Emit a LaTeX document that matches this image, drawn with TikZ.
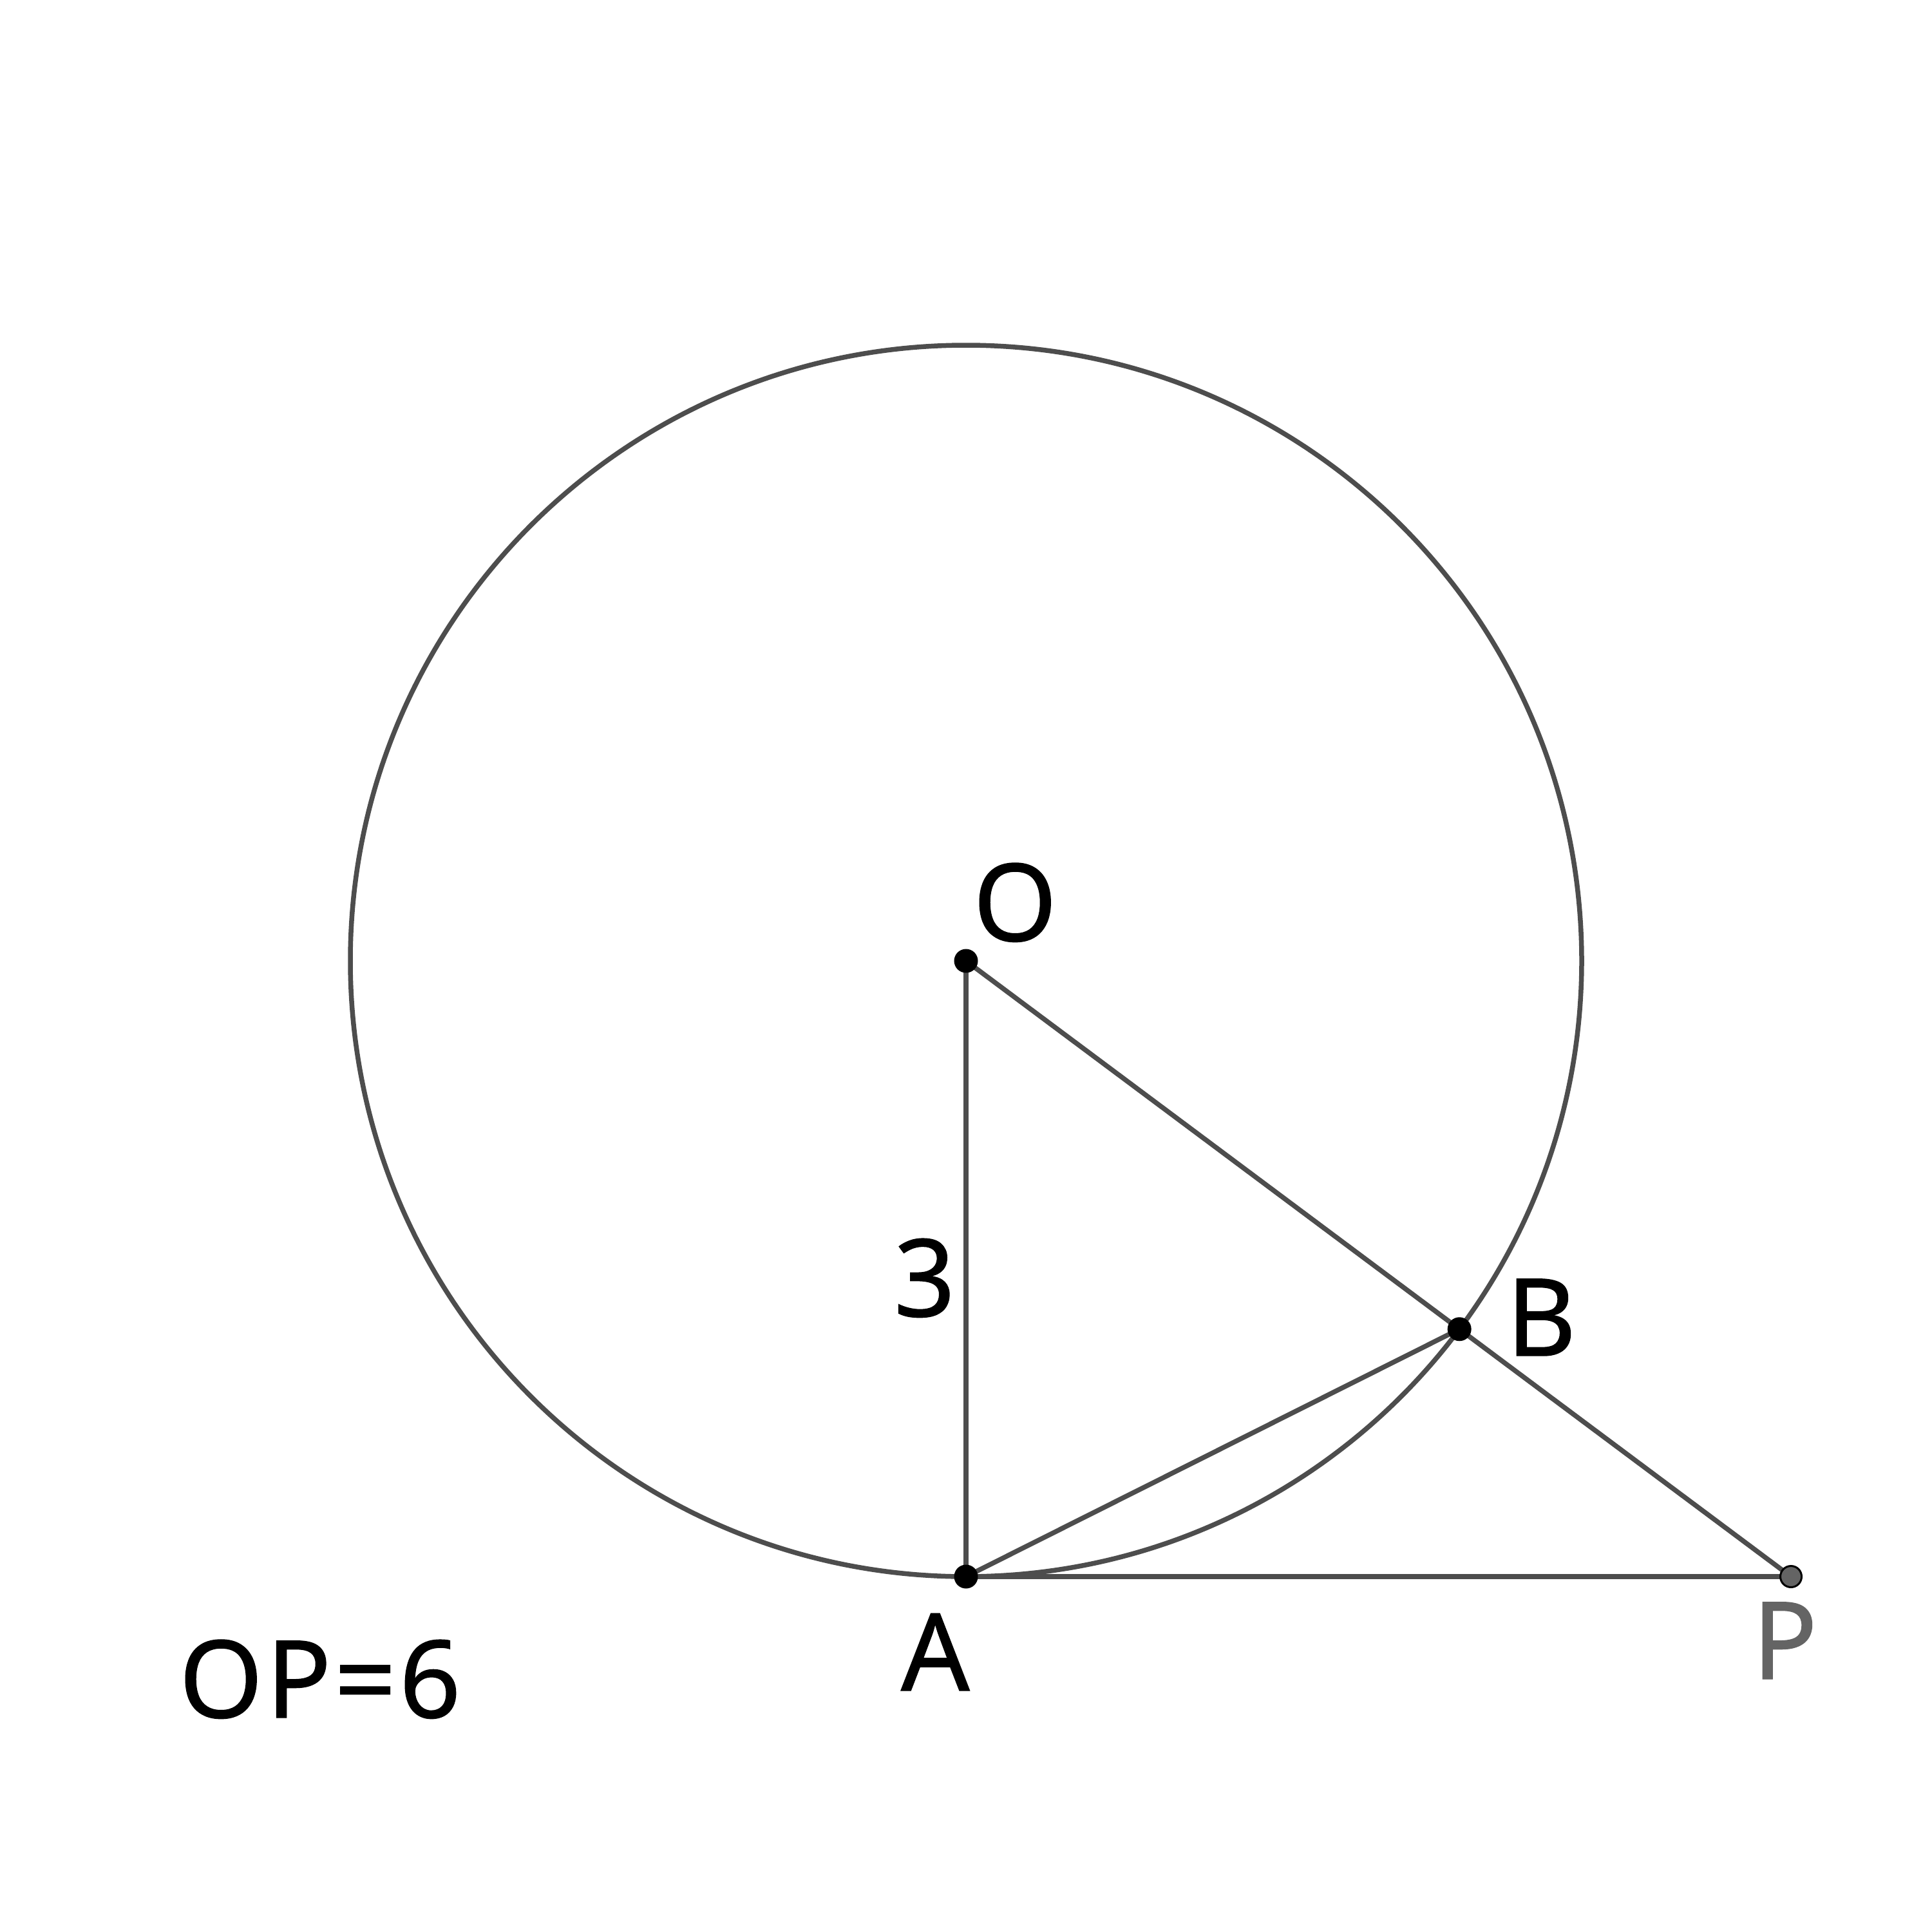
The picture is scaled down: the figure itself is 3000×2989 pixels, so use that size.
\documentclass[tikz,border=0pt]{standalone}
\usepackage{fontspec}
\setmainfont{Noto Sans}
\newfontfamily\lblfont{Noto Sans}[FakeBold=0.8,LetterSpace=3]
\usetikzlibrary{calc}
\definecolor{linegray}{RGB}{77,77,77}
\definecolor{pgray}{RGB}{100,100,100}
\begin{document}
\begin{tikzpicture}[x=1pt,y=-1pt,
  geoline/.style={draw=linegray,line width=7.5pt},
  blackdot/.style={circle,fill=black,inner sep=0pt,minimum size=37pt},
  graydot/.style={circle,fill=pgray,draw=black,line width=3pt,inner sep=0pt,minimum size=33pt},
  lbl/.style={inner sep=0pt,outer sep=0pt,anchor=base west,font=\lblfont\fontsize{167}{200}\selectfont}]
\useasboundingbox (0,0) rectangle (3000,2989);
\coordinate (Oc) at (1500,1492);
\coordinate (Ac) at (1500,2448);
\coordinate (Pc) at (2781,2448);
\coordinate (Bc) at ($(Oc)!956pt!(Pc)$);
\draw[geoline] (Oc) circle[radius=956];
\draw[geoline] (Oc) -- (Ac);
\draw[geoline] (Oc) -- (Pc);
\draw[geoline] (Ac) -- (Pc);
\draw[geoline] (Ac) -- (Bc);
\node[blackdot] (O) at (Oc) {};
\node[blackdot] (A) at (Ac) {};
\node[blackdot] (B) at (Bc) {};
\node[graydot] (P) at (Pc) {};
\node[lbl] (lO) at (1511,1461) {O};
\node[lbl] (lA) at (1399,2625) {A};
\node[lbl] (lB) at (2339,2105) {B};
\node[lbl,text=pgray] (lP) at (2721,2607) {P};
\node[lbl] (l3) at (1388,2044) {3};
\node[lbl] (lOP) at (278,2667) {OP=6};
\end{tikzpicture}
\end{document}
